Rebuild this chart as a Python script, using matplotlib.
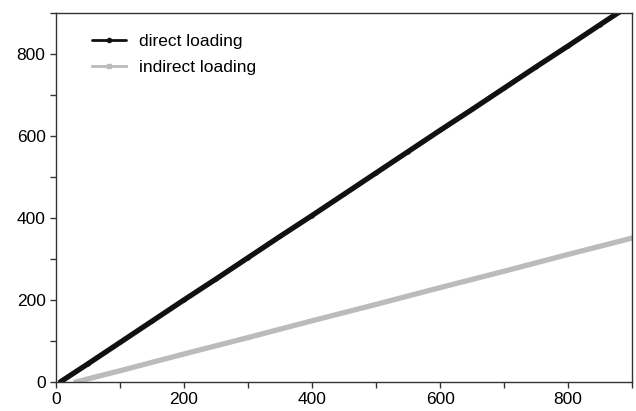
import matplotlib
matplotlib.use("Agg")
import matplotlib.pyplot as plt

plt.rcParams['font.family'] = ['Liberation Sans', 'DejaVu Sans']

# values
direct_x = [7, 50, 100, 150, 200, 250, 300, 350, 400, 450, 500, 550,
            600, 650, 700, 750, 800, 850, 880]
direct_y = [0, 44, 96, 148, 200, 251, 303, 355, 406, 458, 510, 562,
            614, 665, 717, 769, 820, 872, 903]

indirect_x = [32, 100, 200, 300, 400, 500, 600, 700, 800, 900]
indirect_y = [0, 27, 68, 108, 149, 189, 230, 270, 311, 351]

xticks = [0, 200, 400, 600, 800]
yticks = [0, 200, 400, 600, 800]

fig = plt.figure(figsize=(6.36, 4.11), dpi=100)
ax = fig.add_axes([0.088, 0.071, 0.906, 0.897])

ax.plot(direct_x, direct_y, color="#111111", lw=3.8, marker="o", ms=2,
        label="direct loading", solid_capstyle="round")
ax.plot(indirect_x, indirect_y, color="#bbbbbb", lw=3.8, marker="s", ms=2,
        label="indirect loading")

ax.set_xlim(0, 900)
ax.set_ylim(0, 900)
ax.set_xticks(range(0, 901, 100))
ax.set_xticklabels([str(v) if v in xticks else "" for v in range(0, 901, 100)])
ax.set_yticks(range(0, 901, 100))
ax.set_yticklabels([str(v) if v in yticks else "" for v in range(0, 901, 100)])
ax.tick_params(direction="out", length=4, width=1, labelsize=12.5,
               color="#333333", top=False, right=False)
for s in ax.spines.values():
    s.set_color("#333333")
    s.set_linewidth(1)

leg = ax.legend(loc="upper left", bbox_to_anchor=(0.035, 0.985), frameon=False,
                fontsize=12.5, handlelength=2.0, borderaxespad=0.5,
                labelspacing=0.6, numpoints=1, handletextpad=0.7)
for h in leg.legend_handles:
    h.set_linewidth(2)
    h.set_markersize(3)

fig.savefig("out.png", dpi=100)
